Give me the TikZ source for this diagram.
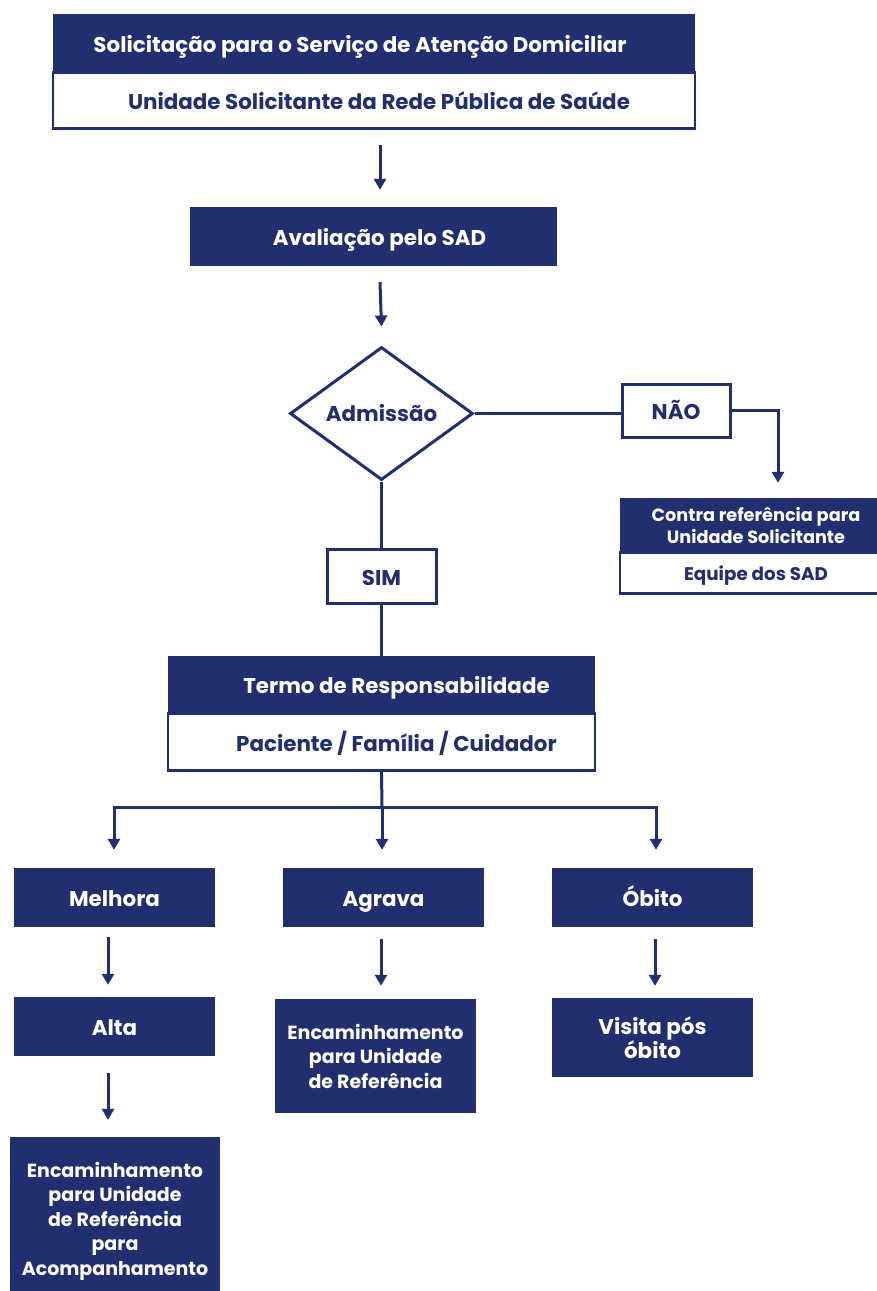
\documentclass[tikz,border=0pt]{standalone}
\usepackage{fontspec}
\setmainfont{Poppins}
\usetikzlibrary{shapes.geometric,arrows.meta}
\definecolor{navy}{RGB}{33,46,112}
\newcommand{\mystr}{\rule[-5pt]{0pt}{28pt}}
\tikzset{
  darkbox/.style={rectangle, fill=navy, draw=none, text=white, inner sep=0pt, align=center, font=\fontsize{21.4}{24.5}\selectfont\bfseries},
  whitebox/.style={rectangle, fill=white, draw=navy, line width=2.5pt, text=navy, inner sep=0pt, align=center, font=\fontsize{21.4}{24.5}\selectfont\bfseries},
  encfont/.style={font=\fontsize{19}{24.5}\selectfont\bfseries},
  conn/.style={draw=navy, line width=3pt},
  arr/.style={conn, -{Triangle[width=12pt,length=11pt]}},
}
\begin{document}
\begin{tikzpicture}[x=1pt,y=-1pt]
\useasboundingbox (0,0) rectangle (877,1291);
\clip (0,0) rectangle (877,1291);
% top
\node[whitebox, minimum width=642pt, minimum height=56pt] (sub) at (374,100.5) {\mystr Unidade Solicitante da Rede Pública de Saúde\hspace*{-10pt}};
\node[darkbox, minimum width=642pt, minimum height=59pt] (head) at (374,43.5) {\mystr Solicitação para o Serviço de Atenção Domiciliar\hspace*{28pt}};
\node[darkbox, minimum width=367pt, minimum height=59pt] (aval) at (373.5,236.5) {\mystr\hspace*{12pt}Avaliação pelo SAD};
\node[shape=diamond, draw=navy, line width=3pt, fill=white, minimum width=183pt, minimum height=133pt, inner sep=0pt, text=navy, font=\fontsize{21.4}{24.5}\selectfont\bfseries] (dia) at (381.5,413.5) {Admissão};
\node[whitebox, line width=3pt, minimum width=108pt, minimum height=53pt] (nao) at (676,410.5) {\mystr NÃO};
\node[whitebox, minimum width=272pt, minimum height=41pt, font=\fontsize{18.3}{22}\selectfont\bfseries] (csub) at (756,573) {\rule[-4pt]{0pt}{23pt}Equipe dos SAD};
\node[darkbox, minimum width=272pt, minimum height=55pt, font=\fontsize{17.7}{22.5}\selectfont\bfseries] (contra) at (756,525.5) {Contra referência para\\Unidade Solicitante};
\node[whitebox, line width=3pt, minimum width=109pt, minimum height=54pt] (sim) at (381.5,576) {\mystr SIM};
\node[whitebox, minimum width=427pt, minimum height=57pt] (tsub) at (381.5,742) {\mystr\hspace*{30pt}Paciente / Família / Cuidador};
\node[darkbox, minimum width=427pt, minimum height=58pt] (termo) at (381.5,685) {\mystr\hspace*{30pt}Termo de Responsabilidade};
% outcomes
\node[darkbox, minimum width=201pt, minimum height=59pt] (melhora) at (114.5,897.5) {\mystr Melhora};
\node[darkbox, minimum width=201pt, minimum height=59pt] (agrava) at (383.5,897.5) {\mystr Agrava};
\node[darkbox, minimum width=201pt, minimum height=59pt] (obito) at (652.5,897.5) {\mystr Óbito};
\node[darkbox, minimum width=201pt, minimum height=59pt] (alta) at (114.5,1026.5) {\mystr Alta};
\node[darkbox, encfont, minimum width=201pt, minimum height=114pt] (enc2) at (375.5,1056) {Encaminhamento\\para Unidade\\de Referência};
\node[darkbox, minimum width=201pt, minimum height=79pt] (visita) at (652.5,1037.5) {Visita pós\\óbito};
\node[darkbox, encfont, minimum width=210pt, minimum height=168pt] (enc1) at (115,1221) {Encaminhamento\\para Unidade\\de Referência\\para\\Acompanhamento};
% connectors
\draw[arr] ([xshift=6pt,yshift=-15pt]sub.south) -- ([xshift=6.5pt,yshift=17pt]aval.north);
\draw[arr] ([xshift=6.5pt,yshift=-16pt]aval.south) -- ([yshift=19pt]dia.north);
\draw[conn] (dia.east) -- (nao.west |- dia.east);
\draw[arr] (nao.east) -| ([xshift=22pt,yshift=15pt]contra.north);
\draw[conn] (dia.south) -- (sim.north);
\draw[conn] (sim.south) -- (termo.north);
\coordinate (split) at (382,807);
\draw[conn] (tsub.south) -- (split);
\draw[arr] (split) -| ([xshift=-0.5pt,yshift=18pt]melhora.north);
\draw[arr] (split) -| ([xshift=3.5pt,yshift=18pt]obito.north);
\draw[arr] (split) -- ([xshift=-1.5pt,yshift=18pt]agrava.north);
\draw[arr] ([xshift=-6.5pt,yshift=-10pt]melhora.south) -- ([xshift=-6.5pt,yshift=12pt]alta.north);
\draw[arr] ([xshift=-6.5pt,yshift=-17pt]alta.south) -- ([xshift=-7pt,yshift=17pt]enc1.north);
\draw[arr] ([xshift=-2.5pt,yshift=-12pt]agrava.south) -- ([xshift=5.5pt,yshift=13pt]enc2.north);
\draw[arr] ([xshift=2.5pt,yshift=-12pt]obito.south) -- ([xshift=2.5pt,yshift=12pt]visita.north);
\end{tikzpicture}
\end{document}
